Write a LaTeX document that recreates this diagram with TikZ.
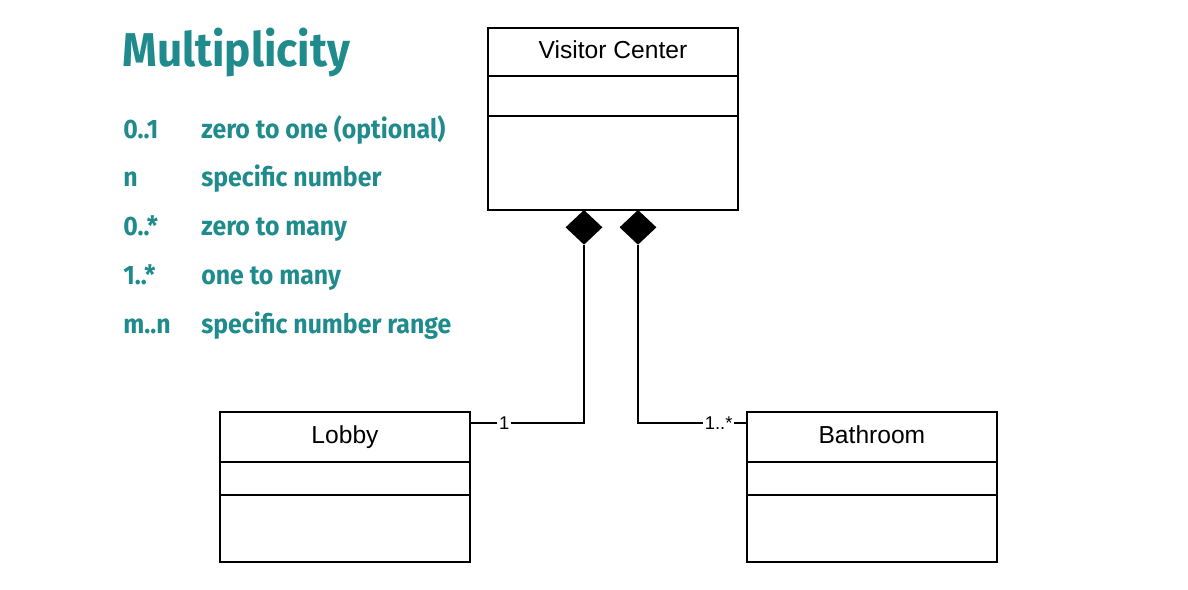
\documentclass[tikz,border=0pt]{standalone}
\usepackage{fontspec}
\setmainfont{Liberation Sans}
\newfontfamily\slidefont[FakeStretch=0.93]{Fira Sans}
\usetikzlibrary{positioning,shapes.geometric}
\definecolor{slideteal}{RGB}{31,139,140}

\tikzset{
  cls/.style={draw, line width=1pt, outer sep=0pt, inner sep=0pt, minimum width=5cm,
    text height=10pt, text depth=3pt, font=\fontsize{14}{16}\selectfont},
  comp/.style={diamond, draw, fill, line width=1pt, minimum width=0.7cm, minimum height=0.66cm,
    inner sep=0pt, anchor=north},
  mult/.style={fill=white, inner sep=1pt, font=\fontsize{10.5}{12}\selectfont},
  legend/.style={anchor=base west, inner sep=0pt, text=slideteal,
    font=\slidefont\bfseries\fontsize{15.2}{18}\selectfont},
}

\begin{document}
\begin{tikzpicture}[x=0.02cm, y=-0.02cm]
  \useasboundingbox (0,0) rectangle (1188,590);

  % legend
  \node[legend, font=\slidefont\bfseries\fontsize{27}{31}\selectfont] (title) at (122,67) {Multiplicity};
  \foreach \m/\d [count=\i] in {{0..1}/{zero to one (optional)}, n/{specific number},
      {0..*}/{zero to many}, {1..*}/{one to many}, {m..n}/{specific number range}} {
    \node[legend] (m\i) at (123,{89.6+48.7*\i}) {\m};
    \node[legend] (d\i) at (201,{89.6+48.7*\i}) {\d};
  }

  % classes
  \node[cls, minimum height=0.96cm] (vc) at (613,52) {Visitor Center};
  \node[cls, minimum height=0.8cm, below=0pt of vc] (vc2) {};
  \node[cls, minimum height=1.88cm, below=0pt of vc2] (vc3) {};

  \node[cls, minimum height=1cm] (lobby) at (345,437) {Lobby};
  \node[cls, minimum height=0.66cm, below=0pt of lobby] (lobby2) {};
  \node[cls, minimum height=1.34cm, below=0pt of lobby2] (lobby3) {};

  \node[cls, minimum height=1cm, right=5.54cm of lobby] (bath) {Bathroom};
  \node[cls, minimum height=0.66cm, below=0pt of bath] (bath2) {};
  \node[cls, minimum height=1.34cm, below=0pt of bath2] (bath3) {};

  % composition
  \node[comp] (dmL) at ([xshift=-0.58cm]vc3.south) {};
  \node[comp] (dmR) at ([xshift=0.5cm]vc3.south) {};

  \draw[line width=1pt] (dmL.south) |- node[mult, pos=0.85] {1} ([yshift=-0.22cm]lobby.north east);
  \draw[line width=1pt] (dmR.south) |- node[mult, pos=0.87] {1..*} ([yshift=-0.22cm]bath.north west);
\end{tikzpicture}
\end{document}
